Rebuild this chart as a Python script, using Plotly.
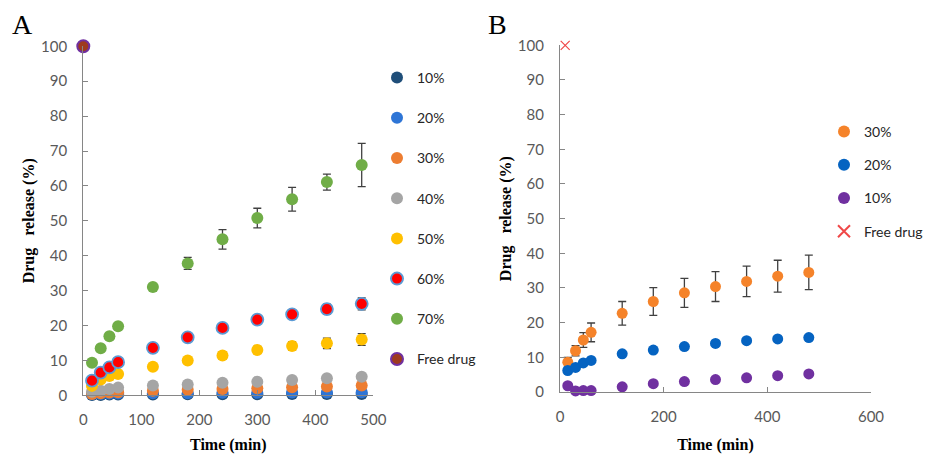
import plotly.graph_objects as go

W, H = 929, 454

# ---------------- Data ----------------
t = [15, 30, 45, 60, 120, 180, 240, 300, 360, 420, 480]

# Panel A
a_10 = [0.1, 0.1, 0.2, 0.2, 0.2, 0.3, 0.3, 0.3, 0.4, 0.4, 0.4]
a_20 = [0.3, 0.4, 0.5, 0.5, 0.6, 0.6, 0.7, 0.7, 0.8, 0.8, 0.9]
a_30 = [0.4, 0.6, 0.8, 0.9, 1.3, 1.6, 1.8, 2.0, 2.3, 2.5, 2.8]
a_40 = [1.0, 1.3, 1.8, 2.2, 2.8, 3.1, 3.6, 3.9, 4.4, 4.9, 5.3]
a_50 = [2.7, 4.5, 5.5, 6.1, 8.2, 10.0, 11.4, 13.0, 14.1, 14.9, 16.0]
a_50_err = [0.2, 0.3, 0.3, 0.4, 0.5, 0.6, 1.0, 1.0, 1.2, 1.5, 1.7]
a_60 = [4.2, 6.5, 8.0, 9.5, 13.6, 16.6, 19.3, 21.7, 23.2, 24.7, 26.2]
a_60_err = [0.3, 0.3, 0.4, 0.4, 0.6, 0.7, 1.2, 1.2, 1.3, 1.4, 1.7]
a_70 = [9.3, 13.5, 16.9, 19.8, 31.0, 37.8, 44.7, 50.8, 56.2, 61.1, 66.0]
a_70_err = [0.3, 0.4, 0.5, 0.6, 1.0, 1.7, 2.8, 2.8, 3.4, 2.3, 6.2]
a_free_t = [0]
a_free = [100]

# Panel B
b_30 = [8.6, 11.9, 15.0, 17.2, 22.7, 26.1, 28.6, 30.4, 31.9, 33.4, 34.5]
b_30_err = [1.4, 1.5, 2.1, 2.7, 3.4, 4.0, 4.2, 4.3, 4.4, 4.6, 5.0]
b_20 = [6.2, 7.1, 8.4, 9.1, 11.0, 12.1, 13.1, 14.0, 14.8, 15.3, 15.7]
b_10 = [1.8, 0.3, 0.4, 0.4, 1.5, 2.4, 3.0, 3.6, 4.1, 4.7, 5.2]
b_free_t = [10]
b_free = [100]

x_ticks_a = [0, 100, 200, 300, 400, 500]
x_ticks_b = [0, 200, 400, 600]
y_ticks = [0, 10, 20, 30, 40, 50, 60, 70, 80, 90, 100]

# ---------------- Styles ----------------
TICK_FONT = dict(family="Lato, Open Sans, sans-serif", size=15, color="#595959")
LEG_FONT = dict(family="Lato, Open Sans, sans-serif", size=14, color="#262626")
TITLE_FONT = dict(family="Liberation Serif, Times New Roman, serif", size=16, color="#000000")
AXIS_COLOR = "#868686"
ERR = dict(type="data", thickness=1.3, width=4, color="#404040")

fig = go.Figure()


def add(x, y, name, color, xa, ya, legend, size=12, line=None, err=None, symbol="circle"):
    marker = dict(size=size, color=color, symbol=symbol)
    if line:
        marker["line"] = line
    else:
        marker["line"] = dict(width=0)
    kw = {}
    if err is not None:
        kw["error_y"] = dict(array=err, **ERR)
    fig.add_trace(go.Scatter(
        x=x, y=y, name=name, mode="markers", marker=marker,
        xaxis=xa, yaxis=ya, legend=legend, legendgroup=legend + name,
        cliponaxis=False, **kw))


# Panel A traces
add(t, a_10, "10%", "#1f4e79", "x", "y", "legend")
add(t, a_20, "20%", "#2e75d6", "x", "y", "legend")
add(t, a_30, "30%", "#ed7d31", "x", "y", "legend")
add(t, a_40, "40%", "#a5a5a5", "x", "y", "legend")
add(t, a_50, "50%", "#ffc000", "x", "y", "legend", err=a_50_err)
add(t, a_60, "60%", "#ff0000", "x", "y", "legend", err=a_60_err,
    line=dict(width=1.8, color="#5b9bd5"))
add(t, a_70, "70%", "#70ad47", "x", "y", "legend", err=a_70_err)
add(a_free_t, a_free, "Free drug", "#9e3a1e", "x", "y", "legend",
    line=dict(width=2, color="#7030a0"))

# Panel B traces
add(t, b_30, "30%", "#f5832a", "x2", "y2", "legend2", size=11, err=b_30_err)
add(t, b_20, "20%", "#0563c1", "x2", "y2", "legend2", size=11)
add(t, b_10, "10%", "#7030a0", "x2", "y2", "legend2", size=11)
add(b_free_t, b_free, "Free drug", "#ff3b3b", "x2", "y2", "legend2", size=9,
    symbol="x-thin", line=dict(width=1.2, color="#f04848"))


def xaxis(domain, rng, ticks, anchor, lab_off, title_off):
    return dict(domain=domain, range=rng, tickvals=ticks, ticks="inside", ticklen=5,
                tickcolor=AXIS_COLOR, showline=True, linecolor=AXIS_COLOR, linewidth=1.3,
                showgrid=False, zeroline=False, tickfont=TICK_FONT, anchor=anchor,
                ticklabelstandoff=lab_off, automargin=False,
                title=dict(text="<b>Time (min)</b>", font=TITLE_FONT, standoff=title_off))


def yaxis(domain, anchor):
    return dict(domain=domain, range=[0, 100], tickvals=y_ticks, ticks="inside", ticklen=5,
                tickcolor=AXIS_COLOR, showline=True, linecolor=AXIS_COLOR, linewidth=1.3,
                showgrid=False, zeroline=False, tickfont=TICK_FONT, anchor=anchor,
                ticklabelstandoff=12, automargin=False,
                title=dict(text="<b>Drug\u00a0\u00a0 release (%)</b>", font=TITLE_FONT, standoff=2))


fig.update_layout(
    width=W, height=H, autosize=False,
    margin=dict(l=0, r=0, t=0, b=0),
    paper_bgcolor="white", plot_bgcolor="white",
    showlegend=True,
    xaxis=xaxis([83.3 / W, 373.3 / W], [0, 500], x_ticks_a, "y", 11, 20),
    yaxis=yaxis([58.7 / H, 407.7 / H], "x"),
    xaxis2=xaxis([560 / W, 871 / W], [0, 600], x_ticks_b, "y2", 11, 14),
    yaxis2=yaxis([62 / H, 408.7 / H], "x2"),
    legend=dict(x=377 / W, y=1 - 62 / H, xanchor="left", yanchor="top",
                font=LEG_FONT, tracegroupgap=19, bgcolor="rgba(0,0,0,0)",
                itemsizing="constant"),
    legend2=dict(x=824 / W, y=1 - 116 / H, xanchor="left", yanchor="top",
                 font=LEG_FONT, tracegroupgap=12, bgcolor="rgba(0,0,0,0)",
                 itemsizing="constant"),
    annotations=[
        dict(text="A", x=22 / W, y=1 - 25 / H, xref="paper", yref="paper",
             xanchor="center", yanchor="middle",
             showarrow=False, font=dict(family="Liberation Serif, serif", size=28, color="black")),
        dict(text="B", x=497 / W, y=1 - 25 / H, xref="paper", yref="paper",
             xanchor="center", yanchor="middle",
             showarrow=False, font=dict(family="Liberation Serif, serif", size=28, color="black")),
    ],
)

fig.write_html("out.html", config={"responsive": False})
